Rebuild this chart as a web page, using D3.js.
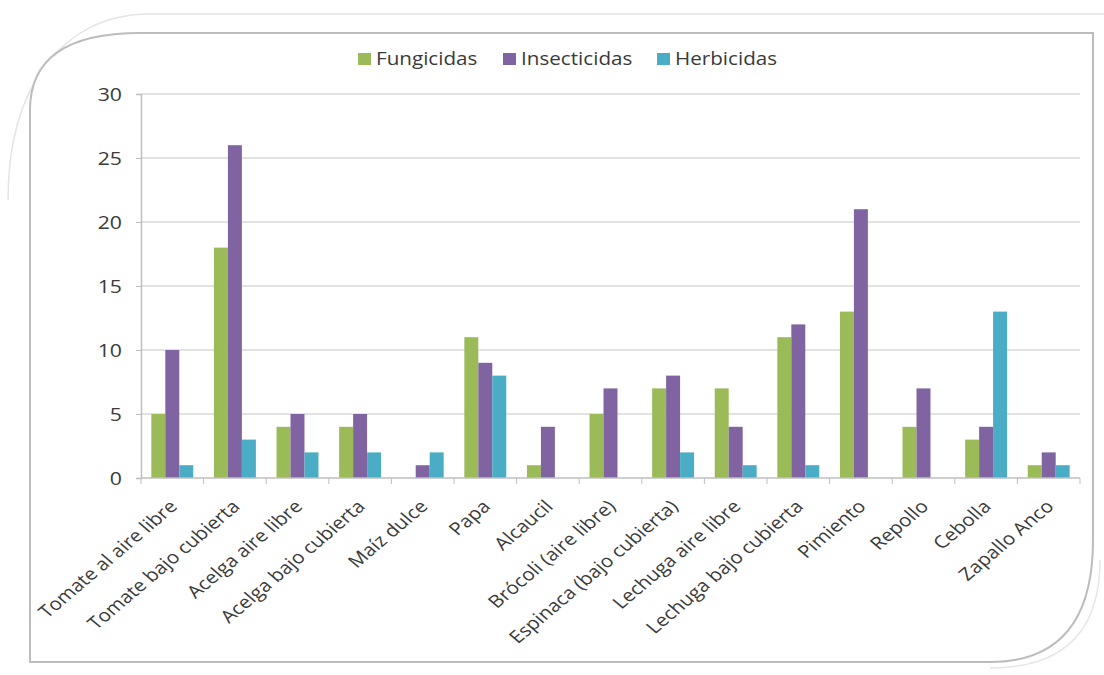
<!DOCTYPE html>
<html lang="es">
<head>
    <meta charset="UTF-8">
    <title>Plaguicidas por cultivo</title>
    <style>
        body {
            margin: 0;
            background: #fff;
        }

        #chart-wrapper {
            width: 1104px;
            height: 675px;
        }

        text {
            font-family: "Open Sans", "Noto Sans", sans-serif;
            fill: #3a3a3a;
        }
    </style>
</head>

<body>
    <div id="chart-wrapper"></div>

    <script src="https://d3js.org/d3.v7.min.js"></script>
    <script>
        const categories = [
            'Tomate al aire libre', 'Tomate bajo cubierta', 'Acelga aire libre',
            'Acelga bajo cubierta', 'Maíz dulce', 'Papa', 'Alcaucil',
            'Brócoli (aire libre)', 'Espinaca (bajo cubierta)', 'Lechuga aire libre',
            'Lechuga bajo cubierta', 'Pimiento', 'Repollo', 'Cebolla', 'Zapallo Anco'
        ]
        const seriesNames = ['Fungicidas', 'Insecticidas', 'Herbicidas']
        const fungicidas = [5, 18, 4, 4, 0, 11, 1, 5, 7, 7, 11, 13, 4, 3, 1]
        const insecticidas = [10, 26, 5, 5, 1, 9, 4, 7, 8, 4, 12, 21, 7, 4, 2]
        const herbicidas = [1, 3, 2, 2, 2, 8, 0, 0, 2, 1, 1, 0, 0, 13, 1]
        const yTicks = [0, 5, 10, 15, 20, 25, 30]
        const colors = ['#9BBB59', '#8064A2', '#4BACC6']

        const width = 1104
        const height = 675
        const margin = { top: 94, right: 24, bottom: 197, left: 141 }
        // the source picture is a bit stretched sideways
        const stretch = 1.18

        const svg = d3.select('#chart-wrapper')
            .append('svg')
            .attr('width', width)
            .attr('height', height)

        // decorative frame like the pasted office chart
        svg.append('path')
            .attr('d', 'M8,200 C8,90 60,14 150,14 L1104,14')
            .attr('fill', 'none')
            .attr('stroke', '#e4e4e4')
            .attr('stroke-width', 1.5)
        svg.append('path')
            .attr('d', 'M30,662 L30,110 Q30,33 140,33 L1093,33 L1093,540 Q1093,662 990,662 Z')
            .attr('fill', '#fff')
            .attr('stroke', '#bdbdbd')
            .attr('stroke-width', 2)
        svg.append('path')
            .attr('d', 'M1100,560 Q1100,668 990,668')
            .attr('fill', 'none')
            .attr('stroke', '#e6e6e6')
            .attr('stroke-width', 1.5)

        const x0 = d3.scaleBand()
            .domain(categories)
            .range([margin.left, width - margin.right])
            .paddingInner(0.33)
            .paddingOuter(0.165)
        const x1 = d3.scaleBand()
            .domain(seriesNames)
            .range([0, x0.bandwidth()])
        const y = d3.scaleLinear()
            .domain([0, 30])
            .range([height - margin.bottom, margin.top])

        const plotLeft = margin.left
        const plotRight = width - margin.right
        const step = (plotRight - plotLeft) / categories.length

        // gridlines
        svg.append('g')
            .selectAll('line')
            .data(yTicks.filter(d => d > 0))
            .join('line')
            .attr('x1', plotLeft)
            .attr('x2', plotRight)
            .attr('y1', d => y(d))
            .attr('y2', d => y(d))
            .attr('stroke', '#d9d9d9')
            .attr('stroke-width', 1.5)

        // bars
        const seriesData = [fungicidas, insecticidas, herbicidas]
        const groups = svg.append('g')
            .selectAll('g')
            .data(categories)
            .join('g')
            .attr('transform', d => `translate(${x0(d)},0)`)
        groups.selectAll('rect')
            .data((c, i) => seriesNames.map((s, j) => ({ s, v: seriesData[j][i], j })))
            .join('rect')
            .attr('x', d => x1(d.s))
            .attr('width', x1.bandwidth())
            .attr('y', d => y(d.v))
            .attr('height', d => y(0) - y(d.v))
            .attr('fill', d => colors[d.j])

        // y axis
        const yAxis = d3.axisLeft(y)
            .tickValues(yTicks)
            .tickSize(5)
            .tickFormat('')
        const yG = svg.append('g')
            .attr('transform', `translate(${plotLeft},0)`)
            .call(yAxis)
        yG.select('.domain').attr('stroke', '#bfbfbf').attr('stroke-width', 1.5)
        yG.selectAll('.tick line').attr('stroke', '#bfbfbf')
        yG.selectAll('.tick')
            .append('text')
            .attr('transform', `translate(-19,0) scale(${stretch},1)`)
            .attr('text-anchor', 'end')
            .attr('dy', '0.35em')
            .style('font-size', '18px')
            .text(d => d)

        // x axis line and tick marks between categories
        svg.append('line')
            .attr('x1', plotLeft)
            .attr('x2', plotRight)
            .attr('y1', y(0))
            .attr('y2', y(0))
            .attr('stroke', '#bfbfbf')
            .attr('stroke-width', 1.5)
        svg.append('g')
            .selectAll('line')
            .data(d3.range(categories.length + 1))
            .join('line')
            .attr('x1', i => plotLeft + i * step)
            .attr('x2', i => plotLeft + i * step)
            .attr('y1', y(0))
            .attr('y2', y(0) + 6)
            .attr('stroke', '#bfbfbf')

        // rotated category labels
        svg.append('g')
            .selectAll('text')
            .data(categories)
            .join('text')
            .attr('transform', d => `translate(${x0(d) + x0.bandwidth() / 2 - 4},${y(0) + 21}) scale(${stretch},1) rotate(-45)`)
            .attr('text-anchor', 'end')
            .attr('dy', '0.7em')
            .style('font-size', '17.5px')
            .text(d => d)

        // legend
        const legendItems = [
            { name: seriesNames[0], x: 358 },
            { name: seriesNames[1], x: 503 },
            { name: seriesNames[2], x: 657 }
        ]
        const legend = svg.append('g')
            .selectAll('g')
            .data(legendItems)
            .join('g')
            .attr('transform', d => `translate(${d.x},59)`)
        legend.append('rect')
            .attr('x', 0)
            .attr('y', -6)
            .attr('width', 13)
            .attr('height', 12)
            .attr('fill', (d, i) => colors[i])
        legend.append('text')
            .attr('transform', `translate(18,0) scale(${stretch},1)`)
            .attr('dy', '0.35em')
            .style('font-size', '17.5px')
            .text(d => d.name)
    </script>
</body>
</html>
